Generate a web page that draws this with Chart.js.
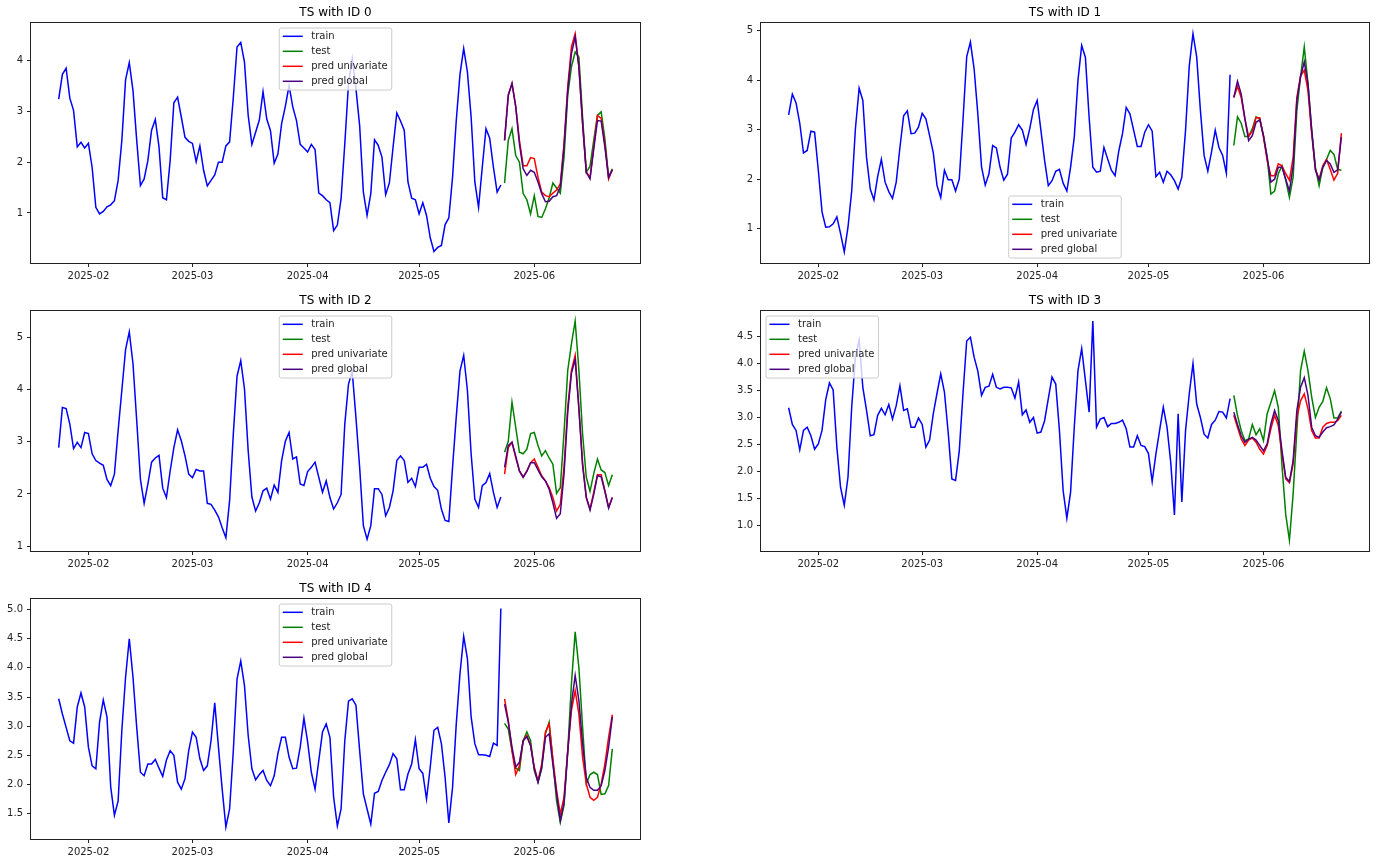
<!DOCTYPE html>
<html>
<head>
<meta charset="utf-8">
<script src="https://cdn.jsdelivr.net/npm/chart.js"></script>
<style>
  html, body { margin: 0; padding: 0; background: #fff; }
  body { width: 1376px; height: 862px; position: relative; overflow: hidden; }
  canvas { position: absolute; }
</style>
</head>
<body>
<script>
// daily series: train runs 120 days, test / predictions the 30 days after it
const TRAIN_START = '2025-01-24';
const TEST_START = '2025-05-24';
const SERIES_LABELS = ['train', 'test', 'pred univariate', 'pred global'];
const MONTH_TICKS = ['2025-02', '2025-03', '2025-04', '2025-05', '2025-06'];
const TITLES = ['TS with ID 0', 'TS with ID 1', 'TS with ID 2', 'TS with ID 3', 'TS with ID 4'];

const Y_TICKS_0 = [1, 2, 3, 4];
const Y_TICKS_1 = [1, 2, 3, 4, 5];
const Y_TICKS_2 = [1, 2, 3, 4, 5];
const Y_TICKS_3 = [1.0, 1.5, 2.0, 2.5, 3.0, 3.5, 4.0, 4.5];
const Y_TICKS_4 = [1.5, 2.0, 2.5, 3.0, 3.5, 4.0, 4.5, 5.0];

// ---- TS 0
const train0 = [
  3.24, 3.73, 3.85, 3.26, 3.02, 2.30, 2.39, 2.28, 2.37, 1.90,
  1.11, 0.98, 1.03, 1.12, 1.16, 1.24, 1.64, 2.43, 3.62, 3.96,
  3.41, 2.43, 1.54, 1.67, 2.03, 2.63, 2.84, 2.30, 1.30, 1.26,
  2.03, 3.17, 3.28, 2.89, 2.49, 2.41, 2.37, 2.01, 2.32, 1.84,
  1.53, 1.64, 1.75, 2.00, 2.00, 2.32, 2.40, 3.28, 4.27, 4.36,
  3.97, 2.92, 2.35, 2.59, 2.83, 3.39, 2.85, 2.62, 1.98, 2.16,
  2.76, 3.10, 3.51, 3.09, 2.82, 2.35, 2.28, 2.20, 2.35, 2.25,
  1.39, 1.34, 1.26, 1.20, 0.65, 0.76, 1.28, 2.36, 3.55, 4.04,
  3.45, 2.72, 1.41, 0.95, 1.38, 2.44, 2.33, 2.10, 1.36, 1.59,
  2.30, 2.97, 2.81, 2.63, 1.61, 1.29, 1.26, 0.98, 1.20, 0.95,
  0.51, 0.24, 0.32, 0.36, 0.77, 0.90, 1.70, 2.82, 3.73, 4.24,
  3.78, 2.89, 1.61, 1.11, 1.90, 2.66, 2.47, 1.90, 1.41, 1.55
];
const test0 = [1.59, 2.43, 2.66, 2.13, 2.00, 1.38, 1.26, 0.98, 1.34, 0.93, 0.91, 1.08, 1.30, 1.59, 1.49,
  1.39, 2.10, 3.32, 3.88, 4.17, 4.07, 2.89, 1.80, 1.92, 2.43, 2.92, 2.99, 2.46, 1.70, 1.87];
const uni0 = [2.43, 3.32, 3.55, 3.10, 2.43, 1.93, 1.93, 2.09, 2.07, 1.70, 1.41, 1.34, 1.32, 1.39, 1.45,
  1.57, 2.36, 3.48, 4.27, 4.53, 3.88, 2.76, 1.80, 1.70, 2.30, 2.92, 2.86, 2.36, 1.67, 1.85];
const glob0 = [2.43, 3.32, 3.55, 3.10, 2.36, 1.87, 1.74, 1.84, 1.80, 1.61, 1.38, 1.22, 1.23, 1.32, 1.34,
  1.51, 2.30, 3.41, 4.14, 4.47, 3.88, 2.76, 1.80, 1.67, 2.26, 2.82, 2.81, 2.30, 1.70, 1.85];

// ---- TS 1
const train1 = [
  3.30, 3.72, 3.54, 3.13, 2.53, 2.58, 2.97, 2.95, 2.18, 1.34,
  1.03, 1.04, 1.10, 1.24, 0.90, 0.53, 1.03, 1.76, 3.02, 3.84,
  3.59, 2.44, 1.80, 1.58, 2.05, 2.40, 1.94, 1.75, 1.61, 1.94,
  2.64, 3.28, 3.38, 2.92, 2.93, 3.05, 3.33, 3.22, 2.88, 2.53,
  1.87, 1.63, 2.18, 1.99, 1.99, 1.76, 2.00, 3.19, 4.47, 4.77,
  4.23, 3.32, 2.25, 1.88, 2.11, 2.68, 2.63, 2.24, 1.98, 2.10,
  2.83, 2.95, 3.10, 2.99, 2.70, 3.02, 3.41, 3.59, 2.99, 2.38,
  1.87, 1.97, 2.16, 2.20, 1.92, 1.76, 2.24, 2.85, 4.00, 4.70,
  4.46, 3.25, 2.24, 2.14, 2.16, 2.64, 2.41, 2.18, 2.07, 2.57,
  2.92, 3.45, 3.32, 2.99, 2.66, 2.66, 2.95, 3.10, 2.97, 2.05,
  2.14, 1.94, 2.16, 2.09, 1.97, 1.80, 2.04, 2.99, 4.29, 4.94,
  4.47, 3.39, 2.48, 2.16, 2.55, 2.99, 2.64, 2.48, 2.12, 4.11
];
const test1 = [2.68, 3.26, 3.13, 2.86, 2.86, 3.02, 3.26, 3.22, 2.88, 2.44, 1.70, 1.76, 2.11, 2.27, 1.98,
  1.63, 2.04, 3.39, 4.07, 4.67, 3.93, 2.99, 2.24, 1.87, 2.24, 2.40, 2.58, 2.50, 2.20, 2.18];
const uni1 = [3.65, 3.87, 3.65, 3.22, 2.86, 2.97, 3.24, 3.24, 2.85, 2.38, 2.07, 2.07, 2.31, 2.27, 2.11,
  1.98, 2.44, 3.65, 4.09, 4.20, 3.79, 2.92, 2.20, 2.00, 2.27, 2.40, 2.20, 1.98, 2.12, 2.93];
const glob1 = [3.65, 3.98, 3.72, 3.22, 2.78, 2.88, 3.15, 3.20, 2.88, 2.44, 1.94, 2.00, 2.24, 2.24, 2.00,
  1.76, 2.27, 3.59, 4.07, 4.37, 3.93, 2.99, 2.19, 1.98, 2.24, 2.38, 2.31, 2.14, 2.19, 2.85];

// ---- TS 2
const train2 = [
  2.89, 3.66, 3.64, 3.34, 2.87, 2.99, 2.89, 3.18, 3.16, 2.77,
  2.64, 2.59, 2.55, 2.28, 2.16, 2.38, 3.22, 3.99, 4.77, 5.11,
  4.50, 3.41, 2.28, 1.82, 2.19, 2.61, 2.69, 2.74, 2.11, 1.93,
  2.44, 2.89, 3.23, 3.02, 2.73, 2.38, 2.31, 2.47, 2.44, 2.44,
  1.82, 1.80, 1.69, 1.56, 1.35, 1.16, 1.87, 3.15, 4.26, 4.56,
  4.02, 2.83, 1.94, 1.67, 1.83, 2.06, 2.11, 1.90, 2.17, 2.03,
  2.64, 3.01, 3.18, 2.67, 2.71, 2.19, 2.16, 2.43, 2.51, 2.61,
  2.32, 2.03, 2.25, 1.93, 1.71, 1.83, 1.99, 3.34, 4.11, 4.35,
  3.47, 2.51, 1.39, 1.13, 1.39, 2.10, 2.10, 1.99, 1.58, 1.74,
  2.06, 2.64, 2.73, 2.64, 2.22, 2.30, 2.14, 2.51, 2.51, 2.57,
  2.30, 2.14, 2.07, 1.71, 1.49, 1.47, 2.51, 3.48, 4.36, 4.66,
  3.99, 2.77, 1.90, 1.74, 2.16, 2.22, 2.39, 2.03, 1.74, 1.94
];
const test2 = [2.80, 3.01, 3.76, 3.28, 2.80, 2.77, 2.86, 3.16, 3.18, 2.93, 2.73, 2.83, 2.69, 2.57, 2.01,
  2.12, 3.18, 4.37, 4.88, 5.32, 4.38, 3.15, 2.32, 2.05, 2.39, 2.67, 2.46, 2.41, 2.16, 2.37];
const uni2 = [2.38, 2.89, 2.99, 2.70, 2.44, 2.32, 2.44, 2.60, 2.67, 2.51, 2.35, 2.25, 2.12, 1.93, 1.67,
  1.80, 2.51, 3.66, 4.37, 4.66, 3.66, 2.60, 1.93, 1.71, 2.03, 2.37, 2.37, 2.06, 1.74, 1.93];
const glob2 = [2.51, 2.93, 2.99, 2.73, 2.44, 2.32, 2.43, 2.60, 2.60, 2.46, 2.33, 2.25, 2.09, 1.83, 1.53,
  1.62, 2.38, 3.57, 4.32, 4.58, 3.63, 2.54, 1.93, 1.69, 1.99, 2.35, 2.33, 2.05, 1.73, 1.93];

// ---- TS 3
const train3 = [
  3.18, 2.87, 2.76, 2.40, 2.76, 2.82, 2.66, 2.41, 2.51, 2.76,
  3.33, 3.64, 3.51, 2.45, 1.70, 1.37, 1.89, 3.19, 4.12, 4.44,
  3.56, 3.13, 2.66, 2.68, 3.04, 3.17, 3.05, 3.24, 2.97, 3.22,
  3.59, 3.13, 3.16, 2.82, 2.82, 2.99, 2.87, 2.45, 2.58, 3.07,
  3.45, 3.81, 3.47, 2.73, 1.86, 1.83, 2.38, 3.44, 4.42, 4.49,
  4.12, 3.86, 3.41, 3.56, 3.58, 3.80, 3.56, 3.53, 3.56, 3.56,
  3.55, 3.36, 3.66, 3.05, 3.14, 2.91, 3.00, 2.71, 2.73, 2.94,
  3.35, 3.75, 3.62, 2.76, 1.64, 1.13, 1.61, 2.82, 3.87, 4.28,
  3.69, 3.10, 4.79, 2.82, 2.97, 3.00, 2.83, 2.89, 2.89, 2.91,
  2.95, 2.79, 2.45, 2.45, 2.66, 2.48, 2.46, 2.33, 1.81, 2.32,
  2.76, 3.19, 2.82, 2.17, 1.19, 3.07, 1.43, 2.76, 3.44, 4.00,
  3.25, 3.00, 2.69, 2.62, 2.87, 2.95, 3.11, 3.10, 2.99, 3.35
];
const test3 = [3.41, 3.04, 2.76, 2.57, 2.60, 2.87, 2.68, 2.79, 2.57, 3.07, 3.28, 3.50, 3.19, 2.10, 1.20,
  0.72, 1.58, 2.76, 3.87, 4.23, 3.87, 3.38, 3.00, 3.19, 3.30, 3.55, 3.35, 2.99, 2.99, 3.12];
const uni3 = [3.04, 2.82, 2.60, 2.48, 2.58, 2.62, 2.54, 2.41, 2.32, 2.48, 2.79, 3.04, 2.85, 2.32, 1.86,
  1.79, 2.14, 3.00, 3.31, 3.44, 3.16, 2.76, 2.62, 2.62, 2.82, 2.89, 2.91, 2.91, 2.94, 3.04];
const glob3 = [3.10, 2.87, 2.66, 2.54, 2.60, 2.63, 2.58, 2.48, 2.38, 2.51, 2.88, 3.13, 2.94, 2.38, 1.89,
  1.81, 2.20, 3.13, 3.56, 3.74, 3.41, 2.82, 2.66, 2.63, 2.73, 2.81, 2.83, 2.86, 2.97, 3.10];

// ---- TS 4
const train4 = [
  3.47, 3.21, 2.98, 2.75, 2.71, 3.33, 3.57, 3.33, 2.64, 2.32,
  2.27, 3.07, 3.45, 3.16, 1.96, 1.47, 1.72, 2.93, 3.84, 4.50,
  3.84, 2.98, 2.21, 2.15, 2.35, 2.35, 2.43, 2.28, 2.14, 2.42,
  2.58, 2.50, 2.04, 1.92, 2.10, 2.58, 2.90, 2.81, 2.44, 2.24,
  2.32, 2.75, 3.40, 2.64, 1.92, 1.27, 1.58, 2.58, 3.81, 4.12,
  3.70, 2.84, 2.27, 2.08, 2.17, 2.24, 2.07, 1.98, 2.15, 2.53,
  2.81, 2.81, 2.47, 2.27, 2.28, 2.64, 3.14, 2.73, 2.21, 1.92,
  2.41, 2.90, 3.04, 2.81, 1.78, 1.29, 1.58, 2.75, 3.43, 3.47,
  3.36, 2.58, 1.84, 1.58, 1.32, 1.85, 1.88, 2.07, 2.21, 2.34,
  2.53, 2.44, 1.91, 1.91, 2.18, 2.35, 2.77, 2.27, 2.19, 1.75,
  2.30, 2.93, 2.98, 2.70, 2.12, 1.34, 1.95, 3.04, 3.90, 4.54,
  4.16, 3.16, 2.70, 2.51, 2.51, 2.50, 2.48, 2.71, 2.67, 5.02
];
const test4 = [3.05, 2.95, 2.58, 2.28, 2.24, 2.75, 2.90, 2.75, 2.24, 2.04, 2.27, 2.87, 3.07, 2.41, 1.72,
  1.35, 1.64, 2.58, 3.73, 4.62, 4.01, 2.98, 2.01, 2.17, 2.21, 2.17, 1.83, 1.84, 1.98, 2.61];
const uni4 = [3.47, 3.10, 2.58, 2.17, 2.32, 2.75, 2.84, 2.67, 2.30, 2.06, 2.35, 2.90, 3.04, 2.44, 1.90,
  1.49, 1.78, 2.58, 3.27, 3.61, 3.21, 2.47, 2.01, 1.78, 1.73, 1.78, 2.01, 2.35, 2.81, 3.20];
const glob4 = [3.38, 3.07, 2.64, 2.30, 2.38, 2.75, 2.82, 2.67, 2.27, 2.04, 2.30, 2.81, 2.87, 2.35, 1.84,
  1.38, 1.69, 2.55, 3.38, 3.87, 3.44, 2.70, 2.12, 1.95, 1.90, 1.90, 1.98, 2.24, 2.64, 3.16];

// ---- layout (axes box in page pixels, y limits, legend spot)
const AXIS_W = 31, TITLE_H = 18, XAXIS_H = 22, PAD_R = 8;
const COLORS = ['#0000ff', '#008000', '#ff0000', '#4b0082'];
const FONT = "'DejaVu Sans', 'Liberation Sans', sans-serif";
const DAY = 86400000;

const PANELS = [
  { left: 31,  top: 23,  w: 608.5, h: 239.5, yMin: 0.013, yMax: 4.742, ticks: Y_TICKS_0, dec: 0, loc: 'upper center',
    series: [train0, test0, uni0, glob0] },
  { left: 761, top: 23,  w: 608,   h: 239.5, yMin: 0.307, yMax: 5.155, ticks: Y_TICKS_1, dec: 0, loc: 'lower center',
    series: [train1, test1, uni1, glob1] },
  { left: 31,  top: 311, w: 608.5, h: 239.5, yMin: 0.904, yMax: 5.512, ticks: Y_TICKS_2, dec: 0, loc: 'upper center',
    series: [train2, test2, uni2, glob2] },
  { left: 761, top: 311, w: 608,   h: 239.5, yMin: 0.521, yMax: 4.977, ticks: Y_TICKS_3, dec: 1, loc: 'upper left',
    series: [train3, test3, uni3, glob3] },
  { left: 31,  top: 599, w: 608.5, h: 239.5, yMin: 1.065, yMax: 5.182, ticks: Y_TICKS_4, dec: 1, loc: 'upper center',
    series: [train4, test4, uni4, glob4] }
];

function points(vals, start) {
  const t0 = Date.parse(start);
  return vals.map((v, i) => ({ x: t0 + i * DAY, y: v }));
}

// full box around the axes, like matplotlib spines
const frame = {
  id: 'frame',
  afterDraw(chart) {
    const { ctx, chartArea: a } = chart;
    ctx.save();
    ctx.strokeStyle = '#222';
    ctx.lineWidth = 1;
    ctx.strokeRect(Math.round(a.left) - 0.5, Math.round(a.top) - 0.5,
      Math.round(a.right) - Math.round(a.left) + 1, Math.round(a.bottom) - Math.round(a.top) + 1);
    ctx.restore();
  }
};

// legend box drawn inside the plot area
const boxLegend = {
  id: 'boxLegend',
  afterDatasetsDraw(chart, args, opts) {
    const { ctx, chartArea: a } = chart;
    const sets = chart.data.datasets;
    ctx.save();
    ctx.font = '10px ' + FONT;
    const textW = Math.max(...sets.map(d => ctx.measureText(d.label).width));
    const bw = 32 + textW + 4, rowH = 15, bh = 17 + rowH * (sets.length - 1);
    let x = a.left + (a.width - bw) / 2, y = a.top + 5;
    if (opts.loc === 'lower center') y = a.bottom - 5 - bh;
    if (opts.loc === 'upper left') x = a.left + 5;
    ctx.beginPath();
    ctx.roundRect(x, y, bw, bh, 2);
    ctx.fillStyle = 'rgba(255,255,255,0.8)';
    ctx.fill();
    ctx.strokeStyle = '#cccccc';
    ctx.lineWidth = 1;
    ctx.stroke();
    sets.forEach((d, i) => {
      const cy = y + 8.3 + rowH * i;
      ctx.beginPath();
      ctx.moveTo(x + 3.5, cy);
      ctx.lineTo(x + 23.5, cy);
      ctx.strokeStyle = d.borderColor;
      ctx.lineWidth = 1.5;
      ctx.stroke();
      ctx.fillStyle = '#222';
      ctx.textBaseline = 'middle';
      ctx.fillText(d.label, x + 32, cy + 0.5);
    });
    ctx.restore();
  }
};

function drawPanel(p, idx) {
  const cv = document.createElement('canvas');
  const W = Math.ceil(AXIS_W + p.w + PAD_R), H = Math.ceil(TITLE_H + p.h + XAXIS_H);
  cv.width = W; cv.height = H;
  cv.style.left = (p.left - AXIS_W) + 'px';
  cv.style.top = (p.top - TITLE_H) + 'px';
  cv.style.width = W + 'px'; cv.style.height = H + 'px';
  document.body.appendChild(cv);

  const [train, test, uni, glob] = p.series;
  const first = Date.parse(TRAIN_START);
  const last = Date.parse(TEST_START) + (test.length - 1) * DAY;
  const margin = 0.05 * (last - first);

  // Chart.js paints low "order" last, so pred global ends on top like matplotlib
  const datasets = [
    points(train, TRAIN_START), points(test, TEST_START),
    points(uni, TEST_START), points(glob, TEST_START)
  ].map((data, k) => ({
    label: SERIES_LABELS[k], data, order: 3 - k,
    borderColor: COLORS[k], borderWidth: 1.5,
    pointRadius: 0, fill: false, tension: 0
  }));

  const tickGrid = { display: true, drawOnChartArea: false, drawTicks: true, tickLength: 4, color: '#222', lineWidth: 1 };

  new Chart(cv, {
    type: 'line',
    data: { datasets },
    plugins: [frame, boxLegend],
    options: {
      responsive: false,
      devicePixelRatio: 1,
      animation: false,
      layout: { padding: { left: 0, right: PAD_R, top: 0, bottom: 0 } },
      plugins: {
        legend: { display: false },
        tooltip: { enabled: false },
        title: {
          display: true, text: TITLES[idx], fullSize: false,
          color: '#000', font: { family: FONT, size: 12, weight: 'normal' },
          padding: { top: 0.6, bottom: 3 }
        },
        boxLegend: { loc: p.loc }
      },
      scales: {
        x: {
          type: 'linear',
          min: first - margin, max: last + margin,
          grid: tickGrid, border: { display: false },
          afterFit: s => { s.height = XAXIS_H; },
          afterBuildTicks: s => { s.ticks = MONTH_TICKS.map(m => ({ value: Date.parse(m + '-01') })); },
          ticks: {
            padding: 3, color: '#222', font: { family: FONT, size: 10 }, maxRotation: 0, autoSkip: false,
            callback: v => MONTH_TICKS.find(m => Date.parse(m + '-01') === v) || ''
          }
        },
        y: {
          min: p.yMin, max: p.yMax,
          grid: tickGrid, border: { display: false },
          afterFit: s => { s.width = AXIS_W; },
          afterBuildTicks: s => { s.ticks = p.ticks.map(v => ({ value: v })); },
          ticks: {
            padding: 4, color: '#222', font: { family: FONT, size: 10 }, autoSkip: false,
            callback: v => Number(v).toFixed(p.dec)
          }
        }
      }
    }
  });
}

PANELS.forEach(drawPanel);
</script>
</body>
</html>
